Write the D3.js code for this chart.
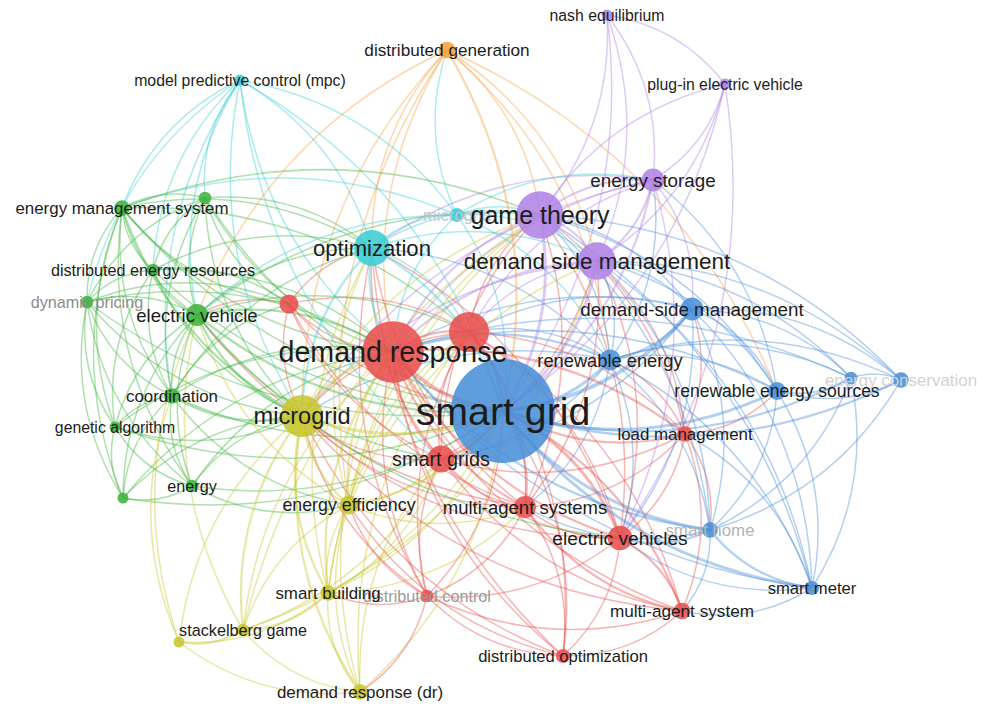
<!DOCTYPE html>
<html>
<head>
<meta charset="utf-8">
<script src="https://cdn.jsdelivr.net/npm/d3@7"></script>
<style>
  html, body { margin: 0; padding: 0; background: #ffffff; }
  svg { display: block; }
  text { font-family: "Liberation Sans", Arial, sans-serif; }
</style>
</head>
<body>
<svg id="chart" width="981" height="706"></svg>
<script>
// ---------- DATA ----------
const nodeIds = ["sg","dr","r1","r2","sgs","mas","evs","mas1","dopt","dctl","lm",
  "mg","ee","sb","stk","y2","drdr","opt","mpc","mgc","dg",
  "gt","dsm","es","ne","pev","dsm2","re","res","b2","ec","sh","sm",
  "ems","g2","der","dp","ev","co","ga","en","g3"];
const nodeLabels = ["smart grid","demand response","","","smart grids","multi-agent systems","electric vehicles","multi-agent system","distributed optimization","distributed control","load management",
  "microgrid","energy efficiency","smart building","stackelberg game","","demand response (dr)","optimization","model predictive control (mpc)","microgrid","distributed generation",
  "game theory","demand side management","energy storage","nash equilibrium","plug-in electric vehicle","demand-side management","renewable energy","renewable energy sources","","energy conservation","smart home","smart meter",
  "energy management system","","distributed energy resources","dynamic pricing","electric vehicle","coordination","genetic algorithm","energy",""];
const nodeClusters = [3,1,1,1,1,1,1,1,1,1,1,
  4,4,4,4,4,4,6,6,6,7,
  5,5,5,5,5,3,3,3,3,3,3,3,
  2,2,2,2,2,2,2,2,2];
// layout coordinates of the map
const nodeX = [503,393,469,289,441,525,620,682,563,427,685,
  302,349,328,243,179,360,372,240,457,447,
  540,597,653,607,725,692,610,777,851,901,710,812,
  122,205,153,87,197,172,115,192,123];
const nodeY = [411,352,332,304,459,507,538,611,656,596,434,
  416,505,593,630,642,692,248,80,215,50,
  215,261,180,15,84,309,360,391,378,380,530,588,
  208,198,270,302,315,396,427,486,498];
// occurrences
const nodeWeights = [270,95,40,9,18,12,15,7,5,4,6,
  44,9,6,4,3,6,32,3,5,7,
  56,35,13,3,3,13,11,8,4,6,6,5,
  6,4,4,4,12,6,3,4,3];
// labels drawn faded in the reference
const fadedLabels = ["dctl","mgc","ec","sh","dp"];
// co-occurrence links: "source target[:strength] ..."
const linkRows = [
  "sg dr:4 r1:3 r2 sgs:3 mas:2 evs:3 mas1:2 dopt dctl lm:2 mg:3 ee:2 sb stk drdr opt:2 mpc mgc dg:2 gt:3 dsm:3 es:2 ne pev dsm2:4 re:3 res:3 b2:2 ec:2 sh:3 sm:3 ems g2 der dp ev:2 co ga en g3",
  "dr r1:2 r2 sgs:2 mas:2 evs:2 mas1 dopt dctl lm:2 mg:3 ee:2 sb:2 stk drdr opt:2 mpc mgc dg gt:2 dsm:2 es dsm2 re:2 res b2 sh:2 sm ems g2 der dp ev:2 co en g3 ga",
  "r1 r2 sgs mas evs mas1 dopt dctl lm mg ee opt gt dsm re dsm2 ev ems es sb drdr",
  "r2 mg ev ems der co opt sgs mas dp g2",
  "sgs mas evs mg ee sb opt gt dsm re dsm2 ev lm dctl mas1 drdr stk",
  "mas evs mas1:2 dopt dctl mg ee opt gt dsm re lm ev sh sb",
  "evs mas1:2 dopt dctl lm mg opt gt dsm es sh:2 sm re dsm2 ev pev",
  "mas1 dopt dctl lm sm sh mg",
  "dopt dctl mg opt ee",
  "dctl mg ee sb drdr opt",
  "lm dsm2 re sh sm gt dsm res",
  "mg ee:2 sb:2 stk:2 y2 drdr:2 opt:2 mpc gt dsm es ems:2 g2 der dp ev:2 co:2 ga en g3 re dg",
  "ee sb stk drdr opt ev co en dsm gt",
  "sb stk:2 y2 drdr opt gt dsm",
  "stk y2:2 drdr gt ev",
  "y2 drdr co ev",
  "opt mpc mgc gt dsm es ems ev g2 der dg re co",
  "mpc mgc ems ev g2 co der sgs dp",
  "mgc gt dsm es ev ems dg re",
  "dg re res dsm gt ee ev",
  "gt dsm:2 es:2 ne pev dsm2 re res ev ems sh sm ec",
  "dsm es:2 ne pev dsm2 re res sh sm ec b2",
  "es ne pev dsm2 re res",
  "ne pev",
  "dsm2 re:2 res b2 ec sh sm",
  "re res b2 ec sh sm",
  "res b2 ec sh sm",
  "b2 ec sh sm",
  "sh sm:2 ec",
  "ems g2 der dp ev co ga en g3",
  "g2 der ev co dp",
  "der dp ev co ga",
  "dp ev co ga en g3",
  "ev co ga en g3",
  "co ga en g3",
  "ga en g3",
  "en g3"
];

// ---------- BUILD ----------
const clusterColor = d3.scaleOrdinal()
  .domain([1,2,3,4,5,6,7])
  .range(["#e8504f","#3fb43f","#4a8fd8","#c8c62e","#b084e6","#3ccdd6","#f7a03e"]);

const W = 981, H = 706;
const xScale = d3.scaleLinear().domain([0, 981]).range([0, W]);
const yScale = d3.scaleLinear().domain([0, 706]).range([0, H]);
const rScale = d3.scaleSqrt().domain([0, 270]).range([0, 52]);
const fontScale = d3.scaleSqrt().domain([0, 270]).range([13, 39.3]);
const widthScale = d3.scaleLinear().domain([1, 4]).range([1.5, 3.8]);

const nodes = nodeIds.map((id, i) => ({
  id, label: nodeLabels[i], cluster: nodeClusters[i],
  x: xScale(nodeX[i]), y: yScale(nodeY[i]), w: nodeWeights[i],
  faded: fadedLabels.includes(id)
}));
const byId = new Map(nodes.map(n => [n.id, n]));

const seen = new Set();
const links = [];
linkRows.forEach(row => {
  const parts = row.trim().split(/\s+/);
  const s = parts[0];
  parts.slice(1).forEach(p => {
    const [t, st] = p.split(":");
    const key = [s, t].sort().join("|");
    if (seen.has(key) || !byId.has(t)) return;
    seen.add(key);
    links.push({ source: byId.get(s), target: byId.get(t), strength: st ? +st : 1 });
  });
});
links.sort((a, b) => a.strength - b.strength);

const cx = xScale(480), cy = yScale(390);
function linkPath(l) {
  const a = l.source, b = l.target;
  const dx = b.x - a.x, dy = b.y - a.y;
  const len = Math.hypot(dx, dy);
  const mx = (a.x + b.x) / 2, my = (a.y + b.y) / 2;
  let px = -dy / len, py = dx / len;
  // bend away from the centre of the map
  if ((mx - cx) * px + (my - cy) * py < 0) { px = -px; py = -py; }
  const k = 0.2 * len;
  const qx = mx + px * k, qy = my + py * k;
  return `M${a.x},${a.y}Q${qx},${qy} ${b.x},${b.y}`;
}

const svg = d3.select("#chart");
svg.append("rect").attr("width", W).attr("height", H).attr("fill", "#fff");

svg.append("g").attr("fill", "none")
  .selectAll("path").data(links).join("path")
  .attr("d", linkPath)
  .attr("stroke", l => clusterColor((l.source.w <= l.target.w ? l.source : l.target).cluster))
  .attr("stroke-opacity", 0.42)
  .attr("stroke-width", l => widthScale(l.strength));

const nodesSorted = nodes.slice().sort((a, b) => b.w - a.w);
svg.append("g").selectAll("circle").data(nodesSorted).join("circle")
  .attr("cx", d => d.x).attr("cy", d => d.y)
  .attr("r", d => rScale(d.w))
  .attr("fill", d => clusterColor(d.cluster))
  .attr("fill-opacity", 0.88);

const fadeColor = { dctl: "#9a9a9a", mgc: "#c4c4d4", ec: "#d2d2d2", sh: "#b4b4b4", dp: "#8c8c8c" };
const labelled = nodes.filter(d => d.label)
  .sort((a, b) => (a.faded === b.faded ? a.w - b.w : (a.faded ? -1 : 1)));
svg.append("g").selectAll("text").data(labelled).join("text")
  .attr("x", d => d.x).attr("y", d => d.y)
  .attr("text-anchor", "middle")
  .attr("dominant-baseline", "central")
  .attr("font-size", d => fontScale(d.w).toFixed(1) + "px")
  .attr("fill", d => d.faded ? fadeColor[d.id] : "#1c1c1c")
  .text(d => d.label);
</script>
</body>
</html>
